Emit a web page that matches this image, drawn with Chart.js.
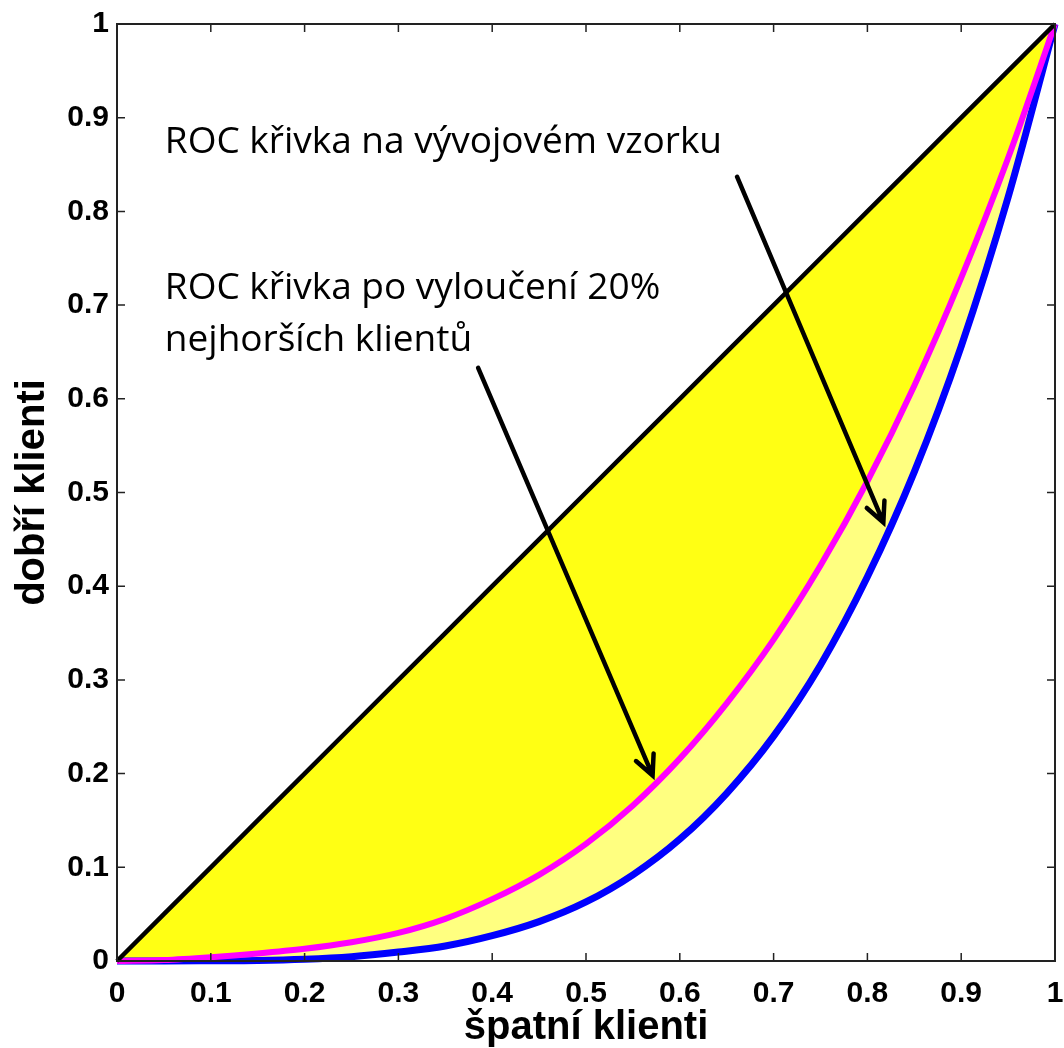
<!DOCTYPE html>
<html>
<head>
<meta charset="utf-8">
<script src="https://cdn.jsdelivr.net/npm/chart.js@4.4.1/dist/chart.umd.min.js"></script>
<style>
  html, body { margin: 0; padding: 0; background: #fff; }
  #wrap { width: 1064px; height: 1048px; }
</style>
</head>
<body>
<div id="wrap"><canvas id="roc"></canvas></div>
<script>
// podíl špatných klientů (osa x)
const badShare = [0, 0.05, 0.1, 0.15, 0.2, 0.25, 0.3, 0.35, 0.4, 0.45, 0.5,
  0.55, 0.6, 0.65, 0.7, 0.75, 0.8, 0.85, 0.9, 0.95, 1];
// ROC křivka po vyloučení 20% nejhorších klientů (magenta)
const rocExcluded = [0, 0.001, 0.004, 0.008, 0.013, 0.02, 0.03, 0.045, 0.066, 0.092, 0.125,
  0.166, 0.216, 0.275, 0.343, 0.422, 0.512, 0.614, 0.729, 0.857, 1];
// ROC křivka na vývojovém vzorku (modrá)
const rocDevelopment = [0, 0, 0.0002, 0.0005, 0.0018, 0.0045, 0.0095, 0.016, 0.027, 0.042, 0.063,
  0.092, 0.13, 0.179, 0.24, 0.316, 0.41, 0.522, 0.656, 0.815, 1];
const tickValues = [0, 0.1, 0.2, 0.3, 0.4, 0.5, 0.6, 0.7, 0.8, 0.9, 1];
const tickLabels = ["0", "0.1", "0.2", "0.3", "0.4", "0.5", "0.6", "0.7", "0.8", "0.9", "1"];

const toPoints = (ys) => badShare.map((x, i) => ({ x: x, y: ys[i] }));

// popisky a šipky v souřadnicích dat
const notes = [
  { lines: ["ROC křivka na vývojovém vzorku"], x: 0.051, y: 0.862, from: [0.661, 0.837], to: [0.817, 0.468] },
  { lines: ["ROC křivka po vyloučení 20%", "nejhorších klientů"], x: 0.051, y: 0.706, from: [0.385, 0.633], to: [0.571, 0.198] }
];

function labelFor(value) {
  const i = tickValues.findIndex((v) => Math.abs(v - value) < 1e-6);
  return i >= 0 ? tickLabels[i] : "";
}

// rámeček a vnitřní značky jako v MATLABu
const framePlugin = {
  id: "frame",
  afterDatasetsDraw(chart) {
    const { ctx, chartArea: a, scales } = chart;
    ctx.save();
    ctx.strokeStyle = "#222";
    ctx.lineWidth = 1.5;
    tickValues.forEach((v) => {
      const px = scales.x.getPixelForValue(v);
      const py = scales.y.getPixelForValue(v);
      ctx.beginPath();
      ctx.moveTo(px, a.bottom); ctx.lineTo(px, a.bottom - 8);
      ctx.moveTo(px, a.top); ctx.lineTo(px, a.top + 8);
      ctx.moveTo(a.left, py); ctx.lineTo(a.left + 8, py);
      ctx.moveTo(a.right, py); ctx.lineTo(a.right - 8, py);
      ctx.stroke();
    });
    ctx.lineWidth = 2;
    ctx.strokeRect(a.left, a.top, a.right - a.left, a.bottom - a.top);

    // popisky se šipkami
    ctx.fillStyle = "#000";
    ctx.font = "37px 'Open Sans', 'Noto Sans', sans-serif";
    ctx.textBaseline = "alphabetic";
    ctx.textAlign = "left";
    notes.forEach((n) => {
      const tx = scales.x.getPixelForValue(n.x);
      const ty = scales.y.getPixelForValue(n.y);
      n.lines.forEach((t, i) => ctx.fillText(t, tx, ty + i * 52));

      const x1 = scales.x.getPixelForValue(n.from[0]);
      const y1 = scales.y.getPixelForValue(n.from[1]);
      const x2 = scales.x.getPixelForValue(n.to[0]);
      const y2 = scales.y.getPixelForValue(n.to[1]);
      const ang = Math.atan2(y2 - y1, x2 - x1);
      ctx.strokeStyle = "#000";
      ctx.lineWidth = 4.5;
      ctx.lineCap = "round";
      ctx.beginPath();
      ctx.moveTo(x1, y1);
      ctx.lineTo(x2, y2);
      ctx.moveTo(x2 - 22 * Math.cos(ang - 0.45), y2 - 22 * Math.sin(ang - 0.45));
      ctx.lineTo(x2, y2);
      ctx.lineTo(x2 - 22 * Math.cos(ang + 0.45), y2 - 22 * Math.sin(ang + 0.45));
      ctx.stroke();
    });
    ctx.restore();
  }
};

const tickFont = { family: "'Liberation Sans', Arial, sans-serif", size: 30, weight: "bold" };
const titleFont = { family: "'Liberation Sans', Arial, sans-serif", size: 40, weight: "bold" };

new Chart(document.getElementById("roc"), {
  type: "line",
  data: {
    datasets: [
      {
        label: "náhodný model",
        data: toPoints(badShare),
        borderColor: "#000",
        borderWidth: 4.5,
        backgroundColor: "#ffff14",
        fill: "+1",
        pointRadius: 0,
        clip: 8
      },
      {
        label: "ROC křivka po vyloučení 20% nejhorších klientů",
        data: toPoints(rocExcluded),
        borderColor: "#ff00ff",
        borderWidth: 6,
        backgroundColor: "#ffff80",
        fill: "+1",
        cubicInterpolationMode: "monotone",
        pointRadius: 0,
        clip: 8
      },
      {
        label: "ROC křivka na vývojovém vzorku",
        data: toPoints(rocDevelopment),
        borderColor: "#0000ff",
        borderWidth: 7,
        fill: false,
        cubicInterpolationMode: "monotone",
        pointRadius: 0,
        clip: 8
      }
    ]
  },
  options: {
    responsive: true,
    maintainAspectRatio: false,
    animation: false,
    layout: { padding: { top: 24, right: 9, left: 0, bottom: 0 } },
    plugins: {
      legend: { display: false },
      tooltip: { enabled: false },
      filler: { drawTime: "beforeDatasetsDraw" }
    },
    scales: {
      x: {
        type: "linear",
        min: 0,
        max: 1,
        afterBuildTicks: (s) => { s.ticks = tickValues.map((v) => ({ value: v })); },
        afterFit: (s) => { s.height = 87; s.paddingLeft = 0; s.paddingRight = 0; },
        grid: { display: false, drawTicks: false },
        border: { display: false },
        ticks: { color: "#000", font: tickFont, padding: 15, maxRotation: 0, autoSkip: false, callback: labelFor },
        title: { display: true, text: "špatní klienti", color: "#000", font: titleFont, padding: { top: 0, bottom: -4 } }
      },
      y: {
        type: "linear",
        min: 0,
        max: 1,
        afterBuildTicks: (s) => { s.ticks = tickValues.map((v) => ({ value: v })); },
        afterFit: (s) => { s.width = 117; s.paddingTop = 0; s.paddingBottom = 0; },
        grid: { display: false, drawTicks: false },
        border: { display: false },
        ticks: { color: "#000", font: tickFont, padding: 8, autoSkip: false, callback: labelFor },
        title: { display: true, text: "dobří klienti", color: "#000", font: titleFont, padding: { top: 9, bottom: 0 } }
      }
    }
  },
  plugins: [framePlugin]
});
</script>
</body>
</html>
